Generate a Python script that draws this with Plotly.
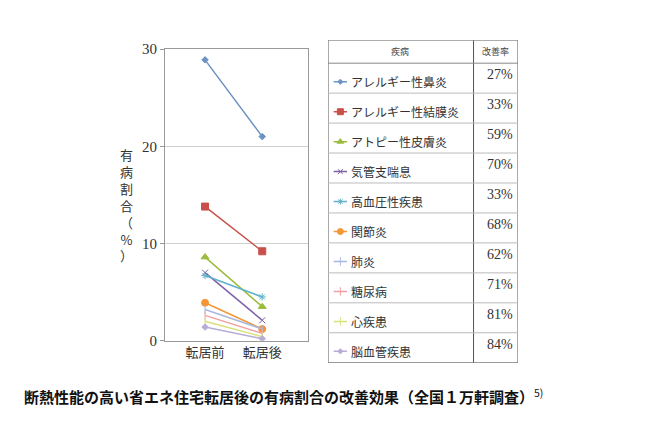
import plotly.graph_objects as go

stages = ["転居前", "転居後"]
diseases = ["アレルギー性鼻炎", "アレルギー性結膜炎", "アトピー性皮膚炎", "気管支喘息", "高血圧性疾患",
            "関節炎", "肺炎", "糖尿病", "心疾患", "脳血管疾患"]
before = [28.9, 13.8, 8.6, 7.0, 6.7, 3.9, 3.2, 2.6, 2.0, 1.4]
after = [21.0, 9.2, 3.5, 2.1, 4.5, 1.2, 1.2, 0.75, 0.4, 0.2]
rates = ["27%", "33%", "59%", "70%", "33%", "68%", "62%", "71%", "81%", "84%"]
colors = ["#6d93c4", "#c9504a", "#9bbb3c", "#7e5fa6", "#5fb2c9", "#f59636",
          "#a9b8e0", "#f0a0a0", "#d6e27a", "#b8acd6"]
symbols = ["diamond", "square", "triangle-up", "x-thin", "asterisk-open", "circle",
           "line-ns", "line-ns", "line-ns", "diamond"]
sizes = [5, 7, 7, 6, 6, 7, 0, 0, 0, 5]

FONT = "Noto Sans CJK JP"
W, H = 652, 441


def px(x):
    return (x - 8) / W


def py(y):
    return 1 - (y - 15.9) / 0.962 / H


fig = go.Figure()
for i, d in enumerate(diseases):
    fig.add_trace(go.Scatter(x=[0, 1], y=[before[i], after[i]], mode="lines+markers",
                             line=dict(color=colors[i], width=1.5),
                             marker=dict(symbol=symbols[i], size=sizes[i], color=colors[i],
                                         line=dict(color=colors[i], width=1)),
                             showlegend=False))

# table
n = len(diseases)
x0, xm, x1 = 0.0, 0.766, 1.0
ytop, yhead = 1.0, 1 - 23 / 322
rowh = yhead / n
shapes = [dict(type="rect", xref="x2", yref="y2", x0=x0, x1=x1, y0=0, y1=ytop,
               line=dict(color="#555", width=1)),
          dict(type="line", xref="x2", yref="y2", x0=xm, x1=xm, y0=0, y1=ytop,
               line=dict(color="#555", width=1)),
          dict(type="line", xref="x2", yref="y2", x0=x0, x1=x1, y0=yhead, y1=yhead,
               line=dict(color="#888", width=1))]
ann = [dict(x=0.38, y=(1 + yhead) / 2, xref="x2", yref="y2", text="疾病", showarrow=False,
            font=dict(size=9, family=FONT, color="#444")),
       dict(x=(xm + 1) / 2, y=(1 + yhead) / 2, xref="x2", yref="y2", text="改善率", showarrow=False,
            font=dict(size=9, family=FONT, color="#444"))]
for i, d in enumerate(diseases):
    yc = yhead - (i + 0.5) * rowh
    if i < n - 1:
        shapes.append(dict(type="line", xref="x2", yref="y2", x0=x0, x1=x1,
                           y0=yhead - (i + 1) * rowh, y1=yhead - (i + 1) * rowh,
                           line=dict(color="#bbb", width=1)))
    fig.add_trace(go.Scatter(x=[0.03, 0.1], y=[yc - rowh * 0.12] * 2, xaxis="x2", yaxis="y2",
                             mode="lines", line=dict(color=colors[i], width=1.5), showlegend=False))
    fig.add_trace(go.Scatter(x=[0.065], y=[yc - rowh * 0.12], xaxis="x2", yaxis="y2", mode="markers",
                             marker=dict(symbol=symbols[i], size=max(sizes[i] - 1, 0), color=colors[i],
                                         line=dict(color=colors[i], width=1)), showlegend=False))
    ann.append(dict(x=0.11, y=yc - rowh * 0.12, xref="x2", yref="y2", text=d, showarrow=False,
                    xanchor="left", font=dict(size=12, family=FONT, color="#333")))
    ann.append(dict(x=0.985, y=yc + rowh * 0.12, xref="x2", yref="y2", text=rates[i], showarrow=False,
                    xanchor="right", font=dict(size=14, family="Liberation Serif", color="#333")))

ann.append(dict(x=px(118), y=py(205), xref="paper", yref="paper",
                text="有<br>病<br>割<br>合<br>（<br>%<br>）", showarrow=False,
                font=dict(size=13, family=FONT, color="#333")))
ann.append(dict(x=px(22), y=py(408), xref="paper", yref="paper", xanchor="left",
                text="<b>断熱性能の高い省エネ住宅転居後の有病割合の改善効果（全国１万軒調査）</b><sup>5)</sup>",
                showarrow=False, font=dict(size=15, family=FONT, color="#111")))

fig.update_layout(
    width=W, height=H, margin=dict(l=0, r=0, t=0, b=0),
    paper_bgcolor="white", plot_bgcolor="white",
    xaxis=dict(domain=[px(165), px(308)], range=[-0.7, 1.8], tickvals=[0, 1], ticktext=stages,
               showgrid=False, zeroline=False, showline=True, linecolor="#999", mirror=True,
               tickfont=dict(size=13, family=FONT, color="#333")),
    yaxis=dict(domain=[py(340), py(49)], range=[0, 30], tickvals=[0, 10, 20, 30],
               showgrid=True, gridcolor="#d0d0d0", zeroline=False, showline=True, linecolor="#999",
               mirror=True, ticks="outside", ticklen=4, tickcolor="#999",
               tickfont=dict(size=15, family="Liberation Serif", color="#333")),
    xaxis2=dict(domain=[px(328), px(518)], range=[0, 1], visible=False, anchor="y2"),
    yaxis2=dict(domain=[py(362), py(40)], range=[0, 1], visible=False, anchor="x2"),
    shapes=shapes, annotations=ann,
)
fig.write_html("out.html")
